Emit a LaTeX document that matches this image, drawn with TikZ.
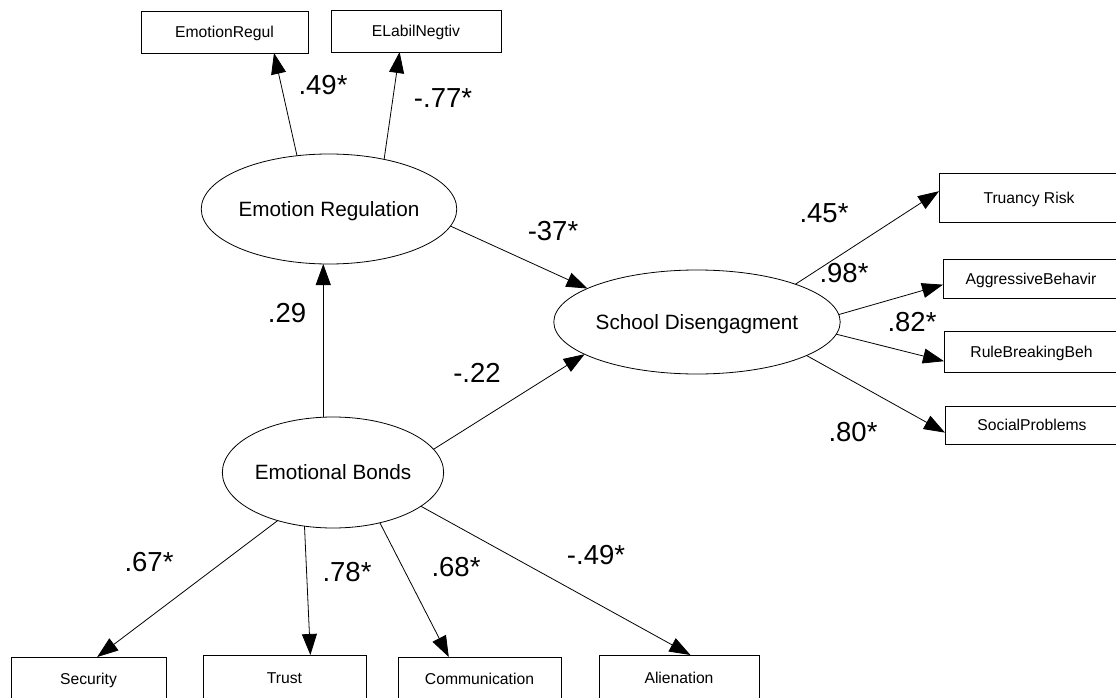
\documentclass[tikz,border=0pt]{standalone}
\usepackage{fontspec}
\setmainfont{Liberation Sans}
\usetikzlibrary{arrows.meta,shapes.geometric}
\begin{document}
\begin{tikzpicture}[x=1pt,y=-1pt,
  obs/.style={draw, rectangle, line width=0.8pt, inner sep=0pt, outer sep=0pt,
    font=\fontsize{15.7}{18}\selectfont, text height=11.2pt, text depth=0pt},
  lat/.style={draw, ellipse, line width=0.8pt, inner sep=0pt, outer sep=0pt,
    font=\fontsize{20.7}{24}\selectfont, text height=14.8pt, text depth=0pt},
  lbl/.style={font=\fontsize{27.5}{32}\selectfont, inner sep=0pt},
  arr/.style={-{Triangle[length=21pt,width=15pt]}, line width=0.8pt}]
\path[use as bounding box, clip] (0,0) rectangle (1116,698);
\fill[white] (0,0) rectangle (1116,698);

% latent variables
\node[lat, minimum width=228pt, minimum height=110pt] (er) at (329,209) {Emotion Regulation};
\node[lat, minimum width=218pt, minimum height=111pt] (eb) at (333,472.5) {Emotional Bonds};
\node[lat, minimum width=238pt, minimum height=104pt] (sd) at (697,322) {School Disengagment};

% indicators
\node[obs, minimum width=167pt, minimum height=42pt] (er1) at (224.5,32) {EmotionRegul};
\node[obs, minimum width=170pt, minimum height=42pt] (er2) at (416,31) {ELabilNegtiv};
\node[obs, minimum width=180pt, minimum height=49pt] (tr) at (1029,197.5) {Truancy Risk};
\node[obs, minimum width=176pt, minimum height=39pt] (ag) at (1031,278.5) {AggressiveBehavir};
\node[obs, minimum width=175pt, minimum height=41pt] (rb) at (1031.5,352) {RuleBreakingBeh};
\node[obs, minimum width=174pt, minimum height=38pt] (sp) at (1032,425) {SocialProblems};
\node[obs, minimum width=155pt, minimum height=43pt] (se) at (88.5,678.5) {Security};
\node[obs, minimum width=163pt, minimum height=45pt] (tu) at (284.5,677.5) {Trust};
\node[obs, minimum width=163pt, minimum height=43pt] (co) at (479.5,678.5) {Communication};
\node[obs, minimum width=160pt, minimum height=45pt] (al) at (679,677.5) {Alienation};

% paths
\draw[arr] (er.121.1) -- (er1.-23.4);
\draw[arr] (er.42.2) -- (er2.232.7);
\draw[arr] (er.-8.3) -- (sd.163.8);
\draw[arr] (eb.100.2) -- (eb.100.2 |- er.south);
\draw[arr] (eb.13.9) -- (sd.196.7);
\draw[arr] (sd.21.3) -- (tr.176.5);
\draw[arr] (sd.3.4) -- (ag.184.9);
\draw[arr] (sd.-5.8) -- (rb.186.5);
\draw[arr] (sd.-17.7) -- (sp.185.3);
\draw[arr] (eb.221.1) -- (se.68.4);
\draw[arr] (eb.242.8) -- (tu.41.4);
\draw[arr] (eb.-47.6) -- (co.145.7);
\draw[arr] (eb.-21.2) -- (al.63.9);

% coefficients
\node[lbl] (l1) at (323,85) {.49*};
\node[lbl] (l2) at (443,98) {-.77*};
\node[lbl] (l3) at (553,231) {-37*};
\node[lbl] (l4) at (287,313) {.29};
\node[lbl] (l5) at (477,373) {-.22};
\node[lbl] (l6) at (824,213) {.45*};
\node[lbl] (l7) at (844,273) {.98*};
\node[lbl] (l8) at (912,322) {.82*};
\node[lbl] (l9) at (853,432) {.80*};
\node[lbl] (l10) at (149,562) {.67*};
\node[lbl] (l11) at (347,572) {.78*};
\node[lbl] (l12) at (456,567) {.68*};
\node[lbl] (l13) at (596,555) {-.49*};
\end{tikzpicture}
\end{document}
